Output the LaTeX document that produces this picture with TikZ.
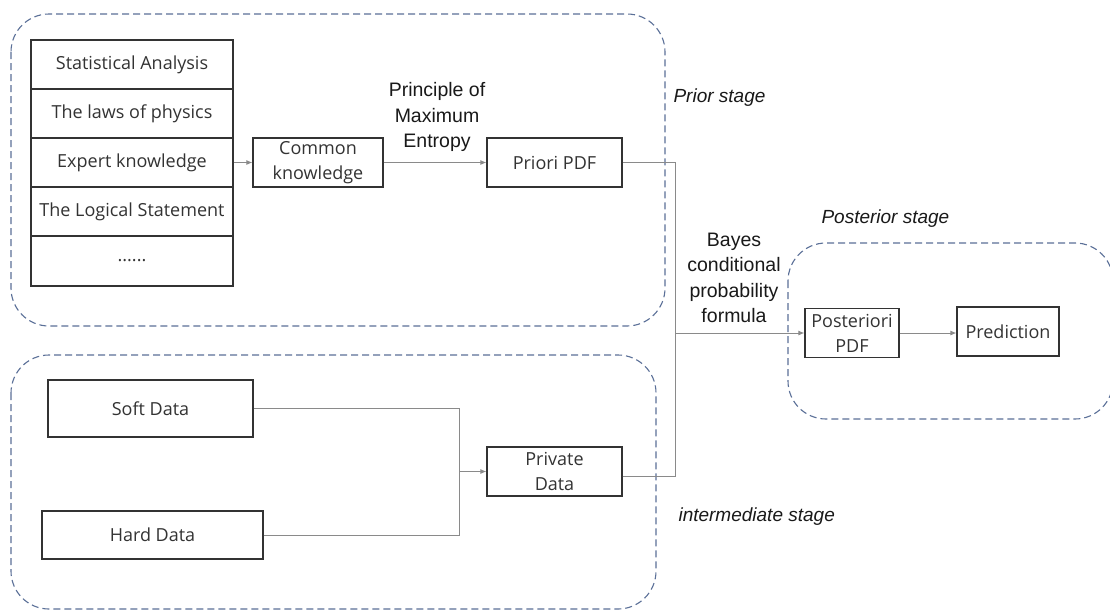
\documentclass[tikz,border=0pt]{standalone}
\usepackage{fontspec}
\setmainfont{Liberation Sans}
\newfontfamily\boxfont{Open Sans}
\usetikzlibrary{arrows.meta}
\definecolor{stageblue}{HTML}{5B7098}
\definecolor{boxgray}{HTML}{333333}
\definecolor{conngray}{HTML}{8A8A8A}
\definecolor{textgray}{HTML}{333333}
\begin{document}
\begin{tikzpicture}[x=1pt,y=-1pt,
  stage/.style={draw=stageblue, dash pattern=on 7pt off 4pt, line width=1.1pt, rounded corners=38pt},
  box/.style={draw=boxgray, line width=1.2pt, font=\boxfont\fontsize{18}{25}\selectfont, text=textgray, inner sep=0pt, align=center},
  conn/.style={draw=conngray, line width=0.9pt},
  arr/.style={conn, -{Latex[length=6pt,width=5pt]}},
  lab/.style={font=\fontsize{19.5}{25.5}\selectfont, text=black!90, align=center},
  stagelab/.style={font=\itshape\fontsize{19}{22}\selectfont, text=black!90, anchor=west}]
\useasboundingbox (0,0) rectangle (1110,611);
\clip (0,0) rectangle (1110,611);
\fill[white] (0,0) rectangle (1110,611);
% stage frames
\draw[stage] (11,14) rectangle (665,326);
\draw[stage] (11,355) rectangle (656,609);
\draw[stage] (788,243) rectangle (1113,419);
% stacked list
\node[box, minimum width=202pt, minimum height=49pt] (r1) at (132,64.5) {Statistical Analysis};
\node[box, minimum width=202pt, minimum height=49pt] (r2) at (132,113.5) {The laws of physics};
\node[box, minimum width=202pt, minimum height=49pt] (r3) at (132,162.5) {Expert knowledge};
\node[box, minimum width=202pt, minimum height=49pt] (r4) at (132,211.5) {The Logical Statement};
\node[box, minimum width=202pt, minimum height=50pt] (r5) at (132,261) {......};
% main boxes
\node[box, minimum width=130pt, minimum height=49pt] (common) at (318,162.5) {Common\\knowledge};
\node[box, minimum width=135pt, minimum height=49pt] (priori) at (554.5,162.5) {Priori PDF};
\node[box, minimum width=205pt, minimum height=57pt] (soft) at (150.5,408.5) {Soft Data};
\node[box, minimum width=221pt, minimum height=48pt] (hard) at (152.5,535) {Hard Data};
\node[box, minimum width=135pt, minimum height=49pt] (private) at (554.5,471.5) {Private\\Data};
\node[box, minimum width=94pt, minimum height=49pt] (posteriori) at (852,333) {Posteriori\\PDF};
\node[box, minimum width=102pt, minimum height=49pt] (prediction) at (1008,331.5) {Prediction};
% labels
\node[lab] (pme) at (437,117) {Principle of\\Maximum\\Entropy};
\node[lab] (bayes) at (734,278) {Bayes\\conditional\\probability\\formula};
\node[stagelab] (priorlab) at (670,98) {Prior stage};
\node[stagelab] (postlab) at (818,219) {Posterior stage};
\node[stagelab] (interlab) at (675,517) {intermediate stage};
% connectors
\coordinate (j1) at (675,333);
\coordinate (j2) at (459,471.5);
\draw[arr] (r3.east) -- (common.west);
\draw[arr] (common.east) -- (priori.west);
\draw[conn] (priori.east) -| (j1);
\draw[conn] ([yshift=-5pt]private.east) -| (j1);
\draw[arr] (j1) -- (posteriori.west);
\draw[arr] (posteriori.east) -- (posteriori.east -| prediction.west);
\draw[conn] (soft.east) -| (j2);
\draw[conn] (hard.east) -| (j2);
\draw[arr] (j2) -- (private.west);
\end{tikzpicture}
\end{document}
